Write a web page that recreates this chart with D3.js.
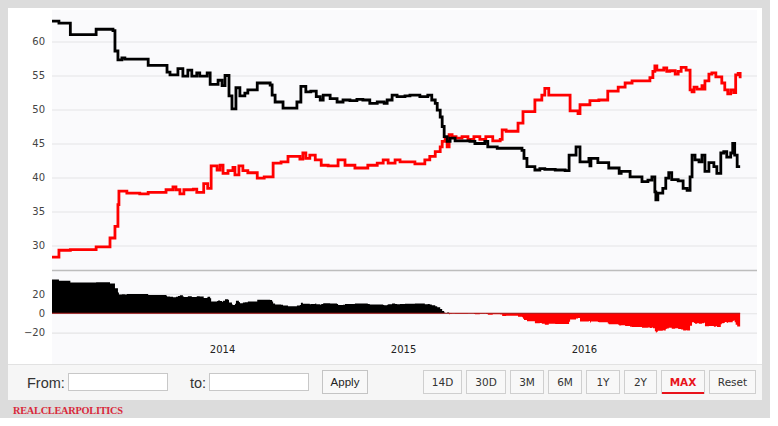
<!DOCTYPE html>
<html>
<head>
<meta charset="utf-8">
<script src="https://cdnjs.cloudflare.com/ajax/libs/d3/7.8.5/d3.min.js"></script>
<style>
  html, body { margin: 0; padding: 0; background: #fff; }
  svg { display: block; }
</style>
</head>
<body>
<div id="vis"></div>
<script>
// black line
var favDates = ["2013-01-23","2013-02-06","2013-03-01","2013-04-22","2013-05-26","2013-05-30","2013-06-05","2013-06-13","2013-06-19","2013-08-05",
  "2013-09-12","2013-09-18","2013-10-04","2013-10-14","2013-10-24","2013-11-01","2013-11-11","2013-11-17","2013-12-02","2013-12-08",
  "2013-12-24","2014-01-01","2014-01-07","2014-01-15","2014-01-21","2014-01-29","2014-02-06","2014-02-16","2014-02-22","2014-03-13",
  "2014-04-08","2014-04-12","2014-04-18","2014-05-04","2014-06-01","2014-06-09","2014-06-19","2014-06-29","2014-07-10","2014-07-18",
  "2014-07-24","2014-08-07","2014-08-21","2014-09-02","2014-09-16","2014-09-30","2014-10-12","2014-10-26","2014-11-10","2014-11-24",
  "2014-11-30","2014-12-10","2014-12-20","2015-01-05","2015-01-15","2015-02-04","2015-02-20","2015-02-28","2015-03-07","2015-03-11",
  "2015-03-17","2015-03-21","2015-03-25","2015-03-31","2015-04-06","2015-04-16","2015-05-16","2015-05-26","2015-06-15","2015-06-21",
  "2015-07-10","2015-08-05","2015-08-29","2015-09-02","2015-09-08","2015-09-24","2015-10-04","2015-10-14","2015-11-04","2015-11-24",
  "2015-12-02","2015-12-16","2015-12-24","2016-01-11","2016-01-13","2016-01-15","2016-01-29","2016-02-20","2016-03-12","2016-03-16",
  "2016-04-03","2016-04-27","2016-05-09","2016-05-17","2016-05-23","2016-05-25","2016-05-29","2016-06-08","2016-06-14","2016-06-20",
  "2016-06-26","2016-07-09","2016-07-19","2016-07-27","2016-08-02","2016-08-06","2016-08-12","2016-08-20","2016-08-26","2016-09-01",
  "2016-09-09","2016-09-19","2016-09-25","2016-10-03","2016-10-09","2016-10-15","2016-10-23","2016-10-27","2016-10-31","2016-11-05",
  "2016-11-11"];
var favValues = [63.0,62.7,61.0,61.8,61.6,58.6,57.3,57.6,57.4,56.5,
  55.5,55.1,56.0,54.9,55.8,54.9,55.4,54.9,55.4,53.7,
  54.3,53.5,55.0,52.0,50.1,53.2,52.0,52.4,52.9,53.9,
  53.6,52.1,51.1,50.2,51.1,53.4,52.6,52.7,51.9,51.4,
  52.1,51.6,51.1,51.4,51.3,51.5,51.4,50.9,51.1,50.9,
  51.4,52.1,51.9,52.0,52.1,51.9,52.1,51.4,50.9,49.9,
  48.9,47.5,46.0,45.3,45.8,45.4,45.3,45.0,45.3,44.5,
  44.3,44.3,44.0,42.8,41.6,41.1,41.3,41.2,41.1,41.0,
  43.3,44.5,42.3,42.8,41.7,42.8,42.2,41.4,40.6,40.9,
  40.1,39.4,39.6,40.1,37.9,36.7,37.7,38.4,39.9,40.7,
  39.7,39.5,38.4,38.1,40.1,43.3,42.6,42.3,43.3,40.9,
  42.2,41.6,40.6,43.6,43.8,43.0,43.6,45.0,43.3,41.6,
  41.6];

// red line
var unfavDates = ["2013-01-23","2013-02-06","2013-03-01","2013-04-22","2013-05-20","2013-05-30","2013-06-05","2013-06-07","2013-06-23","2013-07-19",
  "2013-08-05","2013-09-10","2013-09-24","2013-09-30","2013-10-08","2013-10-16","2013-11-04","2013-11-11","2013-11-25","2013-12-03",
  "2013-12-10","2013-12-22","2013-12-28","2014-01-03","2014-01-13","2014-01-23","2014-01-27","2014-02-04","2014-02-12","2014-02-22",
  "2014-03-13","2014-03-27","2014-04-14","2014-04-30","2014-05-14","2014-06-07","2014-06-13","2014-06-19","2014-06-27","2014-07-08",
  "2014-07-20","2014-08-03","2014-08-23","2014-09-06","2014-09-26","2014-10-22","2014-11-10","2014-11-22","2014-12-02","2014-12-16",
  "2014-12-26","2015-01-25","2015-02-14","2015-02-24","2015-03-07","2015-03-17","2015-03-21","2015-03-27","2015-03-31","2015-04-04",
  "2015-04-10","2015-04-18","2015-04-30","2015-05-12","2015-05-24","2015-06-05","2015-06-17","2015-07-01","2015-07-16","2015-07-20",
  "2015-07-28","2015-08-21","2015-08-31","2015-09-24","2015-10-08","2015-10-14","2015-10-22","2015-12-04","2015-12-20","2015-12-24",
  "2016-01-13","2016-01-31","2016-02-18","2016-03-10","2016-03-24","2016-04-07","2016-05-13","2016-05-19","2016-05-23","2016-05-27",
  "2016-06-10","2016-06-16","2016-06-22","2016-07-03","2016-07-09","2016-07-15","2016-07-25","2016-08-02","2016-08-06","2016-08-10",
  "2016-08-16","2016-08-26","2016-08-30","2016-09-01","2016-09-09","2016-09-15","2016-09-23","2016-10-05","2016-10-11","2016-10-17",
  "2016-10-23","2016-10-29","2016-11-02","2016-11-07","2016-11-11"];
var unfavValues = [28.3,29.3,29.4,29.8,31.1,32.8,36.0,38.0,37.7,37.6,
  37.8,38.2,38.6,38.2,37.6,38.2,38.3,37.8,39.1,38.4,
  41.7,41.1,41.8,40.6,41.0,41.5,40.4,41.7,41.0,40.7,
  39.9,40.1,42.1,42.3,43.1,42.7,43.6,42.8,43.3,42.6,
  41.8,41.7,42.6,41.8,41.4,41.8,42.1,42.6,42.1,42.6,
  42.3,42.0,42.6,43.1,43.8,44.5,45.3,45.8,44.5,46.3,
  46.0,45.8,46.0,45.6,46.0,45.6,46.0,45.4,45.6,47.0,
  46.8,48.0,49.7,51.4,52.1,53.1,52.1,49.8,49.4,50.7,
  51.3,51.4,52.7,53.3,53.9,54.2,54.7,55.6,56.4,55.8,
  56.1,55.6,55.7,55.2,55.6,56.2,55.8,52.9,52.6,53.3,
  53.0,53.5,53.0,54.2,55.2,55.4,54.8,53.9,52.9,52.3,
  52.9,52.5,55.1,55.3,54.6];

var yTicks = [30, 35, 40, 45, 50, 55, 60];
var navTicks = [-20, 0, 20];
var xTickDates = ["2014-01-01", "2015-01-01", "2016-01-01"];
var rangeButtons = ["14D", "30D", "3M", "6M", "1Y", "2Y", "MAX", "Reset"];
var selectedButton = "MAX";

var W = 778, H = 426;
var parse = d3.timeParse("%Y-%m-%d");

var fav = favDates.map(function (d, i) { return { date: parse(d), value: favValues[i] }; });
var unfav = unfavDates.map(function (d, i) { return { date: parse(d), value: unfavValues[i] }; });

// spread (black minus red) for the lower panel
var bis = d3.bisector(function (d) { return d.date; }).right;
function valueAt(series, t) {
    var i = bis(series, t) - 1;
    return series[Math.max(0, i)].value;
}
var allTimes = Array.from(new Set(fav.concat(unfav).map(function (d) { return +d.date; })))
    .sort(d3.ascending);
var spread = allTimes.map(function (t) {
    var dt = new Date(t);
    return { date: dt, value: valueAt(fav, dt) - valueAt(unfav, dt) };
});

var svg = d3.select("#vis").append("svg")
    .attr("width", W).attr("height", H);

// frame
svg.append("rect").attr("x", 0).attr("y", 0).attr("width", 770).attr("height", 418).attr("fill", "#dcdcdc");
svg.append("rect").attr("x", 8).attr("y", 8).attr("width", 754).attr("height", 357).attr("fill", "#ffffff");

var plotLeft = 52, plotRight = 757;
svg.append("rect").attr("x", plotLeft).attr("y", 10).attr("width", plotRight - plotLeft).attr("height", 354)
    .attr("fill", "#fafafc");

var x = d3.scaleTime()
    .domain([parse("2013-01-23"), parse("2016-12-15")])
    .range([plotLeft, plotRight]);

var y = d3.scaleLinear().domain([30, 60]).range([245.5, 41.5]);
var yNav = d3.scaleLinear().domain([-20, 20]).range([332.7, 293.8]);

// main grid + labels
var gY = svg.append("g")
    .attr("transform", "translate(" + plotLeft + ",0)")
    .call(d3.axisLeft(y).tickValues(yTicks).tickSize(-(plotRight - plotLeft)).tickPadding(7));
gY.select(".domain").remove();
gY.selectAll(".tick line").attr("stroke", "#e4e4e6").attr("stroke-width", 1.2);
gY.selectAll(".tick text")
    .style("font-family", "DejaVu Sans, Verdana, sans-serif")
    .attr("font-size", "10px")
    .attr("fill", "#444");

// navigator grid + labels
var gN = svg.append("g")
    .attr("transform", "translate(" + plotLeft + ",0)")
    .call(d3.axisLeft(yNav).tickValues(navTicks).tickSize(-(plotRight - plotLeft)).tickPadding(7));
gN.select(".domain").remove();
gN.selectAll(".tick line").attr("stroke", "#e4e4e6").attr("stroke-width", 1.2);
gN.selectAll(".tick text")
    .style("font-family", "DejaVu Sans, Verdana, sans-serif")
    .attr("font-size", "10px")
    .attr("fill", "#444");

// separator between the panels
svg.append("line")
    .attr("x1", plotLeft).attr("x2", plotRight)
    .attr("y1", 270.5).attr("y2", 270.5)
    .attr("stroke", "#bdbdbd").attr("stroke-width", 1.5);

// x axis labels
var gX = svg.append("g")
    .attr("transform", "translate(0,343)")
    .call(d3.axisBottom(x).tickValues(xTickDates.map(parse)).tickFormat(d3.timeFormat("%Y")).tickSize(0));
gX.select(".domain").remove();
gX.selectAll(".tick text")
    .style("font-family", "DejaVu Sans, Verdana, sans-serif")
    .attr("font-size", "10px")
    .attr("fill", "#222");

// spread areas
var areaPos = d3.area()
    .curve(d3.curveStepAfter)
    .x(function (d) { return x(d.date); })
    .y0(yNav(0))
    .y1(function (d) { return yNav(Math.max(0, d.value)); });
var areaNeg = d3.area()
    .curve(d3.curveStepAfter)
    .x(function (d) { return x(d.date); })
    .y0(yNav(0))
    .y1(function (d) { return yNav(Math.min(0, d.value)); });

svg.append("path").datum(spread).attr("d", areaNeg).attr("fill", "#ff0000");
svg.append("path").datum(spread).attr("d", areaPos).attr("fill", "#000000");
svg.append("line")
    .attr("x1", x(spread[0].date)).attr("x2", x(spread[spread.length - 1].date))
    .attr("y1", yNav(0)).attr("y2", yNav(0))
    .attr("stroke", "#a01010").attr("stroke-width", 1);

// lines
var line = d3.line()
    .curve(d3.curveStepAfter)
    .x(function (d) { return x(d.date); })
    .y(function (d) { return y(d.value); });

svg.append("path").datum(unfav)
    .attr("d", line).attr("fill", "none")
    .attr("stroke", "#ff0000").attr("stroke-width", 2.8);
svg.append("path").datum(fav)
    .attr("d", line).attr("fill", "none")
    .attr("stroke", "#000000").attr("stroke-width", 2.8);

// range selector bar
svg.append("rect").attr("x", 8).attr("y", 364).attr("width", 754).attr("height", 36).attr("fill", "#f6f6f6");
svg.append("line").attr("x1", 8).attr("x2", 762).attr("y1", 364.5).attr("y2", 364.5).attr("stroke", "#e2e2e2");

var ui = svg.append("g").style("font-family", "Liberation Sans, Arial, sans-serif");
ui.append("text").attr("x", 27).attr("y", 387.5).attr("font-size", "14.5px").attr("fill", "#333").text("From:");
ui.append("rect").attr("x", 68.5).attr("y", 373.5).attr("width", 99).attr("height", 17)
    .attr("fill", "#fff").attr("stroke", "#c8c8c8");
ui.append("text").attr("x", 190).attr("y", 387.5).attr("font-size", "14.5px").attr("fill", "#333").text("to:");
ui.append("rect").attr("x", 209.5).attr("y", 373.5).attr("width", 99).attr("height", 17)
    .attr("fill", "#fff").attr("stroke", "#c8c8c8");
ui.append("rect").attr("x", 322.5).attr("y", 370.5).attr("width", 45).attr("height", 23)
    .attr("fill", "#f8f8f8").attr("stroke", "#c4c4c4");
ui.append("text").attr("x", 345).attr("y", 386).attr("text-anchor", "middle")
    .attr("font-size", "11.5px").attr("fill", "#222").text("Apply");

// zoom buttons
var btnWidths = [39, 40, 34, 34, 34, 33, 44, 47];
var bx = 423;
rangeButtons.forEach(function (label, i) {
    var w = btnWidths[i];
    var sel = label === selectedButton;
    var g = svg.append("g").attr("transform", "translate(" + bx + ",370)");
    g.append("rect").attr("x", 0.5).attr("y", 0.5).attr("width", w - 1).attr("height", 23)
        .attr("fill", "#f8f8f8").attr("stroke", "#cfcfcf");
    if (sel) {
        g.append("rect").attr("x", 1).attr("y", 22).attr("width", w - 2).attr("height", 2).attr("fill", "#e8141c");
    }
    g.append("text").attr("x", w / 2).attr("y", 16).attr("text-anchor", "middle")
        .style("font-family", "DejaVu Sans, Verdana, sans-serif")
        .attr("font-size", "10.5px")
        .attr("font-weight", sel ? "bold" : "normal")
        .attr("fill", sel ? "#e8141c" : "#333")
        .text(label);
    bx += w + 4;
});

// credit
svg.append("text").attr("x", 13).attr("y", 413.5)
    .style("font-family", "Liberation Serif, Times New Roman, serif")
    .attr("font-size", "10.3px")
    .attr("font-weight", "bold")
    .attr("textLength", 110)
    .attr("fill", "#d8283a")
    .text("REALCLEARPOLITICS");
</script>
</body>
</html>
